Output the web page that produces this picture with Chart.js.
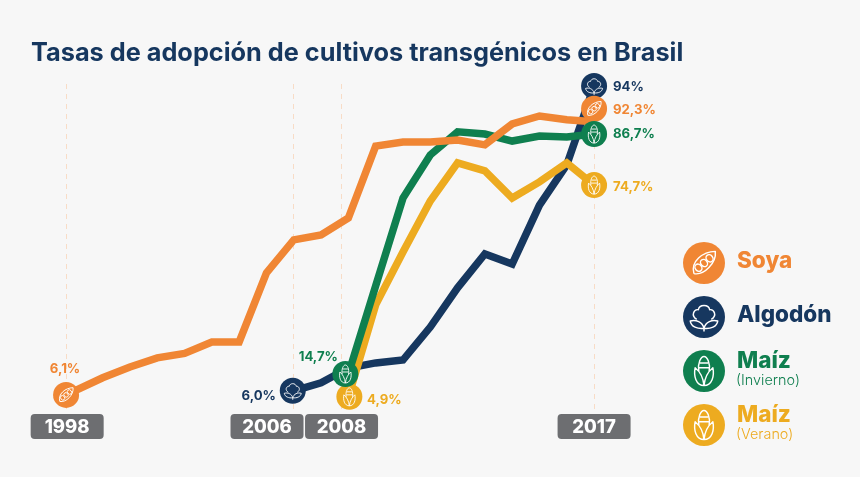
<!DOCTYPE html>
<html lang="es">
<head>
<meta charset="utf-8">
<title>Tasas de adopción de cultivos transgénicos en Brasil</title>
<script src="https://cdn.jsdelivr.net/npm/chart.js@4/dist/chart.umd.min.js"></script>
<style>
  html, body { margin: 0; padding: 0; background: #f7f7f7; }
  canvas { display: block; }
</style>
</head>
<body>
<canvas id="grafico" width="860" height="477"></canvas>
<script>
const titulo = 'Tasas de adopción de cultivos transgénicos en Brasil';

// Años de cada serie (el primer punto de soya está un poco a la izquierda en el original)
const aniosSoya = [1997.66, 1999, 2000, 2001, 2002, 2003, 2004, 2005, 2006, 2007, 2008, 2009, 2010, 2011, 2012, 2013, 2014, 2015, 2016, 2017];
const aniosAlgodon = [2006, 2007, 2008, 2009, 2010, 2011, 2012, 2013, 2014, 2015, 2016, 2017];
const aniosMaiz = [2008, 2009, 2010, 2011, 2012, 2013, 2014, 2015, 2016, 2017];

// Valores (la infografía no está a escala exacta con sus etiquetas)
const soya = [6.1, 11.5, 14.9, 17.8, 19.2, 22.8, 22.8, 44.6, 55, 56.6, 61.9, 84.6, 85.9, 85.9, 86.5, 85, 91.6, 94.1, 92.9, 92.3];
const algodon = [7.4, 9.9, 14.6, 16.2, 17.1, 27.5, 39.9, 50.6, 47.4, 66, 78.7, 103.6];
const maizInvierno = [12.7, 40.5, 68.2, 81.8, 89.1, 88.4, 86.2, 87.8, 87.5, 88.4];
const maizVerano = [5.5, 34.5, 51.2, 67.3, 79.3, 76.8, 68.2, 73.3, 79.3, 72.3];

const aniosGuia = [1997.66, 2006, 2007.75, 2017];
const aniosCaja = [1997.7, 2005.02, 2007.75, 2017];
const etiquetasAnio = ['1998', '2006', '2008', '2017'];
const nombresLeyenda = ['Soya', 'Algodón', 'Maíz', 'Maíz'];
const subLeyenda = ['', '', '(Invierno)', '(Verano)'];

const NARANJA = '#f08634';
const AZUL = '#16375f';
const VERDE = '#0f7f4f';
const AMARILLO = '#edab20';
const FUENTE = 'Inter, sans-serif';

function puntos(anios, valores) {
  return anios.map((a, i) => ({ x: a, y: valores[i] }));
}

function serie(label, anios, valores, color, order) {
  return {
    label,
    data: puntos(anios, valores),
    borderColor: color,
    backgroundColor: color,
    borderWidth: 7.5,
    borderJoinStyle: 'miter',
    pointRadius: 0,
    tension: 0,
    order
  };
}

// Iconos blancos dentro de los círculos
function iconoVaina(ctx) {
  ctx.rotate(-0.7);
  ctx.beginPath();
  ctx.moveTo(-9, 1);
  ctx.bezierCurveTo(-6, -6, 4, -6, 10, -1);
  ctx.bezierCurveTo(6, 5, -5, 6, -9, 1);
  ctx.stroke();
  [-4.5, 0, 4.5].forEach(x => {
    ctx.beginPath();
    ctx.ellipse(x, 0, 2, 2.4, 0, 0, Math.PI * 2);
    ctx.stroke();
  });
}

function iconoAlgodon(ctx) {
  ctx.beginPath();
  ctx.moveTo(-4.5, 1.5);
  ctx.bezierCurveTo(-8.5, -1, -6, -5, -3.5, -4.5);
  ctx.bezierCurveTo(-3, -8, 3, -8, 3.5, -4.5);
  ctx.bezierCurveTo(6, -5, 8.5, -1, 4.5, 1.5);
  ctx.stroke();
  ctx.beginPath();
  ctx.moveTo(0, 7);
  ctx.bezierCurveTo(-1, 3, -5, 1.5, -8.5, 2.5);
  ctx.bezierCurveTo(-8, 6, -4, 7.5, 0, 7);
  ctx.bezierCurveTo(4, 7.5, 8, 6, 8.5, 2.5);
  ctx.bezierCurveTo(5, 1.5, 1, 3, 0, 7);
  ctx.moveTo(0, 7);
  ctx.lineTo(0, 9);
  ctx.stroke();
}

function iconoMaiz(ctx) {
  ctx.beginPath();
  ctx.moveTo(-3.2, 0);
  ctx.bezierCurveTo(-4, -5, -2, -9, 0, -9);
  ctx.bezierCurveTo(2, -9, 4, -5, 3.2, 0);
  ctx.moveTo(-2.5, -5);
  ctx.lineTo(2.5, -5);
  ctx.moveTo(-3, -2);
  ctx.lineTo(3, -2);
  ctx.stroke();
  ctx.beginPath();
  ctx.moveTo(0, 9);
  ctx.bezierCurveTo(-5, 9, -6.5, 3, -5.5, -2);
  ctx.bezierCurveTo(-3, 0, -0.5, 4, 0, 9);
  ctx.bezierCurveTo(5, 9, 6.5, 3, 5.5, -2);
  ctx.bezierCurveTo(3, 0, 0.5, 4, 0, 9);
  ctx.stroke();
}

function circuloIcono(ctx, x, y, r, color, icono) {
  ctx.save();
  ctx.fillStyle = color;
  ctx.beginPath();
  ctx.arc(x, y, r, 0, Math.PI * 2);
  ctx.fill();
  ctx.translate(x, y);
  ctx.scale(r / 13, r / 13);
  ctx.strokeStyle = '#fff';
  ctx.lineWidth = 0.9;
  ctx.lineJoin = 'round';
  icono(ctx);
  ctx.restore();
}

function texto(ctx, str, x, y, font, color, align) {
  ctx.font = font;
  ctx.fillStyle = color;
  ctx.textAlign = align || 'left';
  ctx.textBaseline = 'alphabetic';
  ctx.fillText(str, x, y);
}

// Líneas guía, debajo de las series
const guias = {
  id: 'guias',
  beforeDatasetsDraw(chart) {
    const { ctx, scales } = chart;
    ctx.save();
    ctx.strokeStyle = '#f8dcc6';
    ctx.lineWidth = 1;
    ctx.setLineDash([5, 5]);
    aniosGuia.forEach(a => {
      const x = Math.floor(scales.x.getPixelForValue(a)) + 0.5;
      ctx.beginPath();
      ctx.moveTo(x, 84);
      ctx.lineTo(x, 414);
      ctx.stroke();
    });
    ctx.restore();
  }
};

// Marcadores, valores, años, título y leyenda
const adornos = {
  id: 'adornos',
  afterDatasetsDraw(chart) {
    const { ctx, scales } = chart;
    const X = a => scales.x.getPixelForValue(a);
    const Y = v => scales.y.getPixelForValue(v);
    ctx.save();

    aniosCaja.forEach((a, i) => {
      const ancho = 73;
      ctx.fillStyle = '#6d6e71';
      ctx.beginPath();
      ctx.roundRect(X(a) - ancho / 2, 414, ancho, 25, 4);
      ctx.fill();
      texto(ctx, etiquetasAnio[i], X(a), 433, '800 18.5px ' + FUENTE, '#fff', 'center');
    });

    circuloIcono(ctx, X(2017), Y(103.6), 13, AZUL, iconoAlgodon);
    circuloIcono(ctx, X(2017), Y(92.3) - 13, 13, NARANJA, iconoVaina);
    circuloIcono(ctx, X(2017), Y(88.4), 13, VERDE, iconoMaiz);
    circuloIcono(ctx, X(2017), Y(72.3), 13, AMARILLO, iconoMaiz);
    circuloIcono(ctx, X(aniosSoya[0]), Y(soya[0]), 13, NARANJA, iconoVaina);
    circuloIcono(ctx, X(2006) - 1, Y(algodon[0]), 13, AZUL, iconoAlgodon);
    circuloIcono(ctx, X(2008) + 1, Y(maizVerano[0]), 13, AMARILLO, iconoMaiz);
    circuloIcono(ctx, X(2008) - 3, Y(maizInvierno[0]), 13, VERDE, iconoMaiz);

    const fv = '700 13.2px ' + FUENTE;
    texto(ctx, '94%', 613, 91, fv, AZUL);
    texto(ctx, '92,3%', 613, 114, fv, NARANJA);
    texto(ctx, '86,7%', 613, 138, fv, VERDE);
    texto(ctx, '74,7%', 613, 191, fv, AMARILLO);
    texto(ctx, '6,1%', 65, 373, fv, NARANJA, 'center');
    texto(ctx, '6,0%', 276, 400, fv, AZUL, 'right');
    texto(ctx, '14,7%', 338, 361, fv, VERDE, 'right');
    texto(ctx, '4,9%', 367, 404, fv, AMARILLO);

    texto(ctx, titulo, 31, 61, '700 25.3px ' + FUENTE, AZUL);

    const coloresLeyenda = [NARANJA, AZUL, VERDE, AMARILLO];
    const iconosLeyenda = [iconoVaina, iconoAlgodon, iconoMaiz, iconoMaiz];
    const yCirculo = [263, 317, 371, 425];
    const yNombre = [268, 322, 368, 422];
    const ySub = [0, 0, 385, 439];
    nombresLeyenda.forEach((n, i) => {
      circuloIcono(ctx, 704, yCirculo[i], 21, coloresLeyenda[i], iconosLeyenda[i]);
      texto(ctx, n, 737, yNombre[i], '800 22.5px ' + FUENTE, coloresLeyenda[i]);
      if (subLeyenda[i]) texto(ctx, subLeyenda[i], 736, ySub[i], '300 14.4px ' + FUENTE, coloresLeyenda[i]);
    });
    ctx.restore();
  }
};

new Chart(document.getElementById('grafico').getContext('2d'), {
  type: 'line',
  data: {
    datasets: [
      serie('Soya', aniosSoya, soya, NARANJA, 0),
      serie('Algodón', aniosAlgodon, algodon, AZUL, 3),
      serie('Maíz (Invierno)', aniosMaiz, maizInvierno, VERDE, 1),
      serie('Maíz (Verano)', aniosMaiz, maizVerano, AMARILLO, 2)
    ]
  },
  options: {
    responsive: false,
    animation: false,
    devicePixelRatio: 1,
    layout: { padding: 0 },
    plugins: {
      legend: { display: false },
      title: { display: false },
      tooltip: { enabled: false }
    },
    scales: {
      x: { type: 'linear', display: false, min: 1995.24, max: 2026.74 },
      y: { type: 'linear', display: false, min: -19.8, max: 130.7 }
    }
  },
  plugins: [guias, adornos]
});
</script>
</body>
</html>
